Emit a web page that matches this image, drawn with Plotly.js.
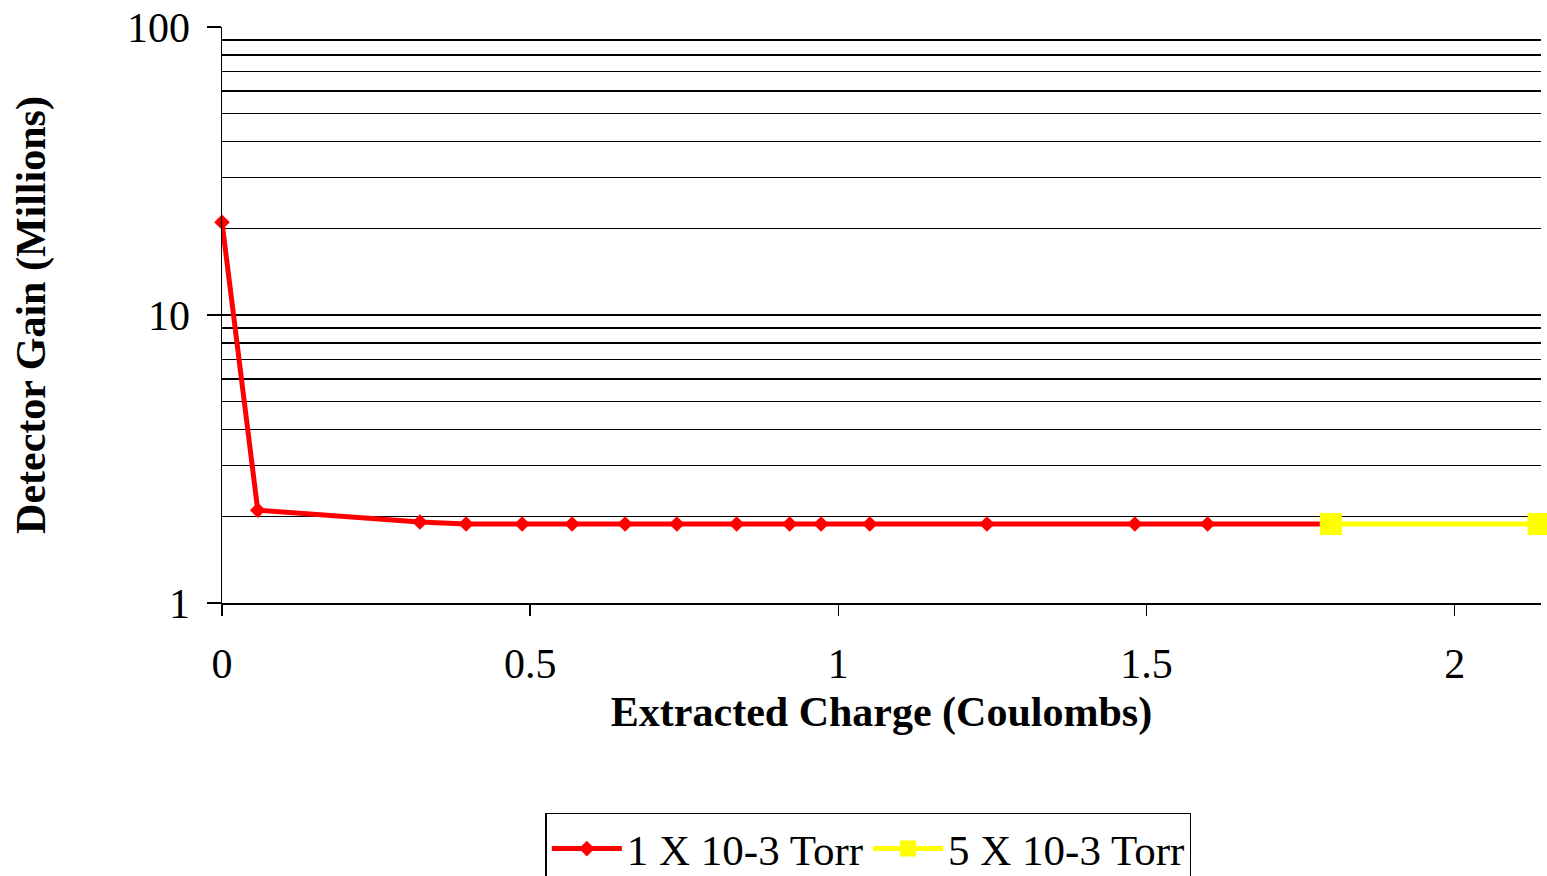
<!DOCTYPE html>
<html>
<head>
<meta charset="utf-8">
<script src="https://cdn.plot.ly/plotly-3.0.1.min.js"></script>
<style>html,body{margin:0;padding:0;background:#fff;}#chart{width:1547px;height:876px;}</style>
</head>
<body>
<div id="chart"></div>
<script>
const lowPressureCharge = [0, 0.058, 0.321, 0.396, 0.487, 0.568, 0.654, 0.738, 0.835, 0.921, 0.972, 1.051, 1.241, 1.481, 1.599, 1.799];
const lowPressureGain   = [21, 2.1, 1.91, 1.88, 1.88, 1.88, 1.88, 1.88, 1.88, 1.88, 1.88, 1.88, 1.88, 1.88, 1.88, 1.88];
const highPressureCharge = [1.799, 2.136];
const highPressureGain   = [1.88, 1.88];
const seriesNames = ["1 X 10-3 Torr", "5 X 10-3 Torr"];

const font = "Liberation Serif";

const traces = [
  {
    x: lowPressureCharge, y: lowPressureGain, name: seriesNames[0],
    type: "scatter", mode: "lines+markers",
    line: {color: "#ff0000", width: 5},
    marker: {symbol: "diamond", size: 12, color: "#ff0000"},
    cliponaxis: false
  },
  {
    x: highPressureCharge, y: highPressureGain, name: seriesNames[1],
    type: "scatter", mode: "lines+markers",
    line: {color: "#ffff00", width: 5},
    marker: {symbol: "square", size: 22, color: "#ffff00"},
    cliponaxis: false
  }
];

const layout = {
  width: 1547, height: 876,
  margin: {l: 222, r: 6, t: 27, b: 273, autoexpand: false},
  paper_bgcolor: "#fff", plot_bgcolor: "#fff",
  font: {family: font, size: 42, color: "#000"},
  showlegend: true,
  legend: {
    orientation: "h", x: 0.49, xanchor: "center", y: -0.364, yanchor: "top",
    bordercolor: "#000", borderwidth: 1.5, font: {family: font, size: 43, color: "#000"},
    itemwidth: 70, tracegroupgap: 0
  },
  xaxis: {
    range: [0, 2.14], dtick: 0.5, tick0: 0, automargin: false,
    showgrid: false, zeroline: false,
    showline: true, linecolor: "#000", linewidth: 1.5,
    ticks: "outside", ticklen: 11, tickwidth: 1.5, tickcolor: "#000",
    ticklabelstandoff: 12,
    tickfont: {family: font, size: 42, color: "#000"},
    title: {text: "<b>Extracted Charge (Coulombs)</b>", font: {family: font, size: 42}, standoff: 10}
  },
  yaxis: {
    type: "log", range: [0, 2], dtick: 1, tick0: 0, automargin: false,
    showgrid: true, gridcolor: "#000", gridwidth: 1.5,
    zeroline: false,
    showline: true, linecolor: "#000", linewidth: 1.5,
    ticks: "outside", ticklen: 14, tickwidth: 1.5, tickcolor: "#000",
    ticklabelstandoff: 8,
    tickfont: {family: font, size: 42, color: "#000"},
    minor: {dtick: "D1", showgrid: true, gridcolor: "#000", gridwidth: 1.5, ticks: ""},
    title: {text: "<b>Detector Gain (Millions)</b>", font: {family: font, size: 42}, standoff: 68}
  }
};

Plotly.newPlot("chart", traces, layout, {displayModeBar: false, staticPlot: true});
</script>
</body>
</html>
